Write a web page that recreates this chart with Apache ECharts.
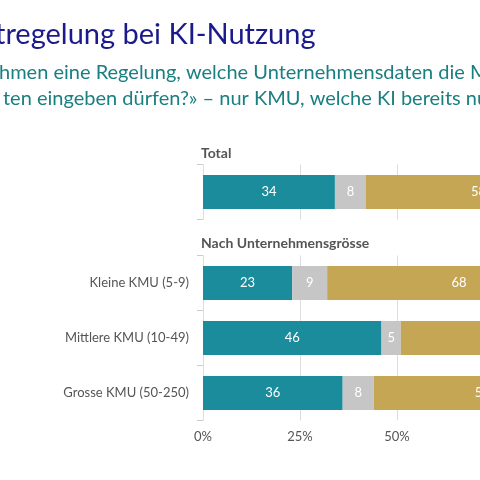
<!DOCTYPE html>
<html><head><meta charset="utf-8">
<script src="https://cdn.jsdelivr.net/npm/echarts@6/dist/echarts.min.js"></script>
<style>html,body{margin:0;padding:0;background:#fff;overflow:hidden;width:480px;height:480px}#c{width:640px;height:480px}</style>
</head><body><div id="c"></div>
<script>
const totalCats = ['Total'];
const sizeCats = ['Kleine KMU (5-9)', 'Mittlere KMU (10-49)', 'Grosse KMU (50-250)'];
const seriesNames = ['Ja', 'Weiss nicht', 'Nein'];
const totalVals = [[34], [8], [58]];
const sizeVals = [[23, 46, 36], [9, 5, 8], [68, 49, 56]];
const colors = ['#1a8c9c', '#c6c6c6', '#c4a655'];
const xTicks = [0, 25, 50, 75, 100];
const F = 'Lato, "Noto Sans", sans-serif';
const chart = echarts.init(document.getElementById('c'));
const xBase = (gi, show) => ({
  type: 'value', gridIndex: gi, min: 0, max: 100, interval: 25,
  axisLine: {show: false}, axisTick: {show: false},
  splitLine: {lineStyle: {color: '#dddddd'}},
  axisLabel: {show: show, formatter: v => xTicks.includes(v) ? v + '%' : '', color: '#555', fontSize: 13, fontFamily: F, margin: 10}
});
const yBase = (gi, cats, show) => ({
  type: 'category', gridIndex: gi, data: cats, inverse: true,
  axisLine: {show: false}, axisTick: {show: true, length: 6, lineStyle: {color: '#ccc'}},
  axisLabel: {show: show, color: '#555', fontSize: 13, fontFamily: F, margin: 14}
});
const series = [];
seriesNames.forEach((n, i) => {
  const common = {type: 'bar', name: n, barWidth: 34, itemStyle: {color: colors[i]},
    label: {show: true, color: '#fff', fontSize: 13, fontFamily: F}};
  series.push(Object.assign({}, common, {stack: 'a', xAxisIndex: 0, yAxisIndex: 0, data: totalVals[i]}));
  series.push(Object.assign({}, common, {stack: 'b', xAxisIndex: 1, yAxisIndex: 1, data: sizeVals[i]}));
});
chart.setOption({
  animation: false,
  grid: [
    {left: 203, width: 388, top: 164.5, height: 55},
    {left: 203, width: 388, top: 255.5, height: 165}
  ],
  xAxis: [xBase(0, false), xBase(1, true)],
  yAxis: [yBase(0, totalCats, false), yBase(1, sizeCats, true)],
  series: series,
  graphic: [
    {type: 'text', left: -5, top: 20, style: {text: 'tregelung bei KI-Nutzung', fill: '#1a1a8c', font: '29px ' + F}},
    {type: 'text', left: -1, top: 63, style: {text: 'hmen eine Regelung, welche Unternehmensdaten die Mitarbeitenden', fill: '#1a7f80', font: '20px ' + F}},
    {type: 'text', left: 3, top: 89, style: {text: 'ten eingeben dürfen?» – nur KMU, welche KI bereits nutzen', fill: '#1a7f80', font: '20px ' + F}},
    {type: 'text', left: 201, top: 146, style: {text: 'Total', fill: '#555', font: 'bold 14px ' + F}},
    {type: 'text', left: 201, top: 236, style: {text: 'Nach Unternehmensgrösse', fill: '#555', font: 'bold 14px ' + F}}
  ]
});
</script></body></html>
